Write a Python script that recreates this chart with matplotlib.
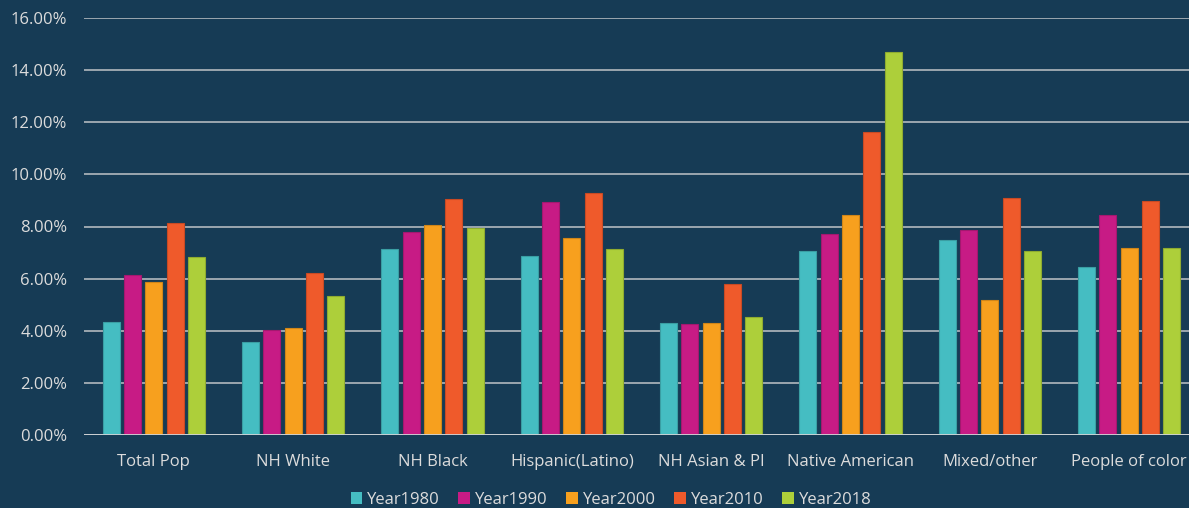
import matplotlib
matplotlib.use("Agg")
import matplotlib.pyplot as plt
import numpy as np
from matplotlib.patches import Patch

categories = ["Total Pop", "NH White", "NH Black", "Hispanic(Latino)", "NH Asian & PI",
              "Native American", "Mixed/other", "People of color"]
series_names = ["Year1980", "Year1990", "Year2000", "Year2010", "Year2018"]
year1980 = [4.35, 3.58, 7.13, 6.87, 4.29, 7.06, 7.48, 6.46]
year1990 = [6.14, 4.04, 7.80, 8.94, 4.25, 7.71, 7.87, 8.45]
year2000 = [5.87, 4.09, 8.06, 7.57, 4.29, 8.45, 5.19, 7.19]
year2010 = [8.12, 6.23, 9.07, 9.27, 5.79, 11.62, 9.08, 8.98]
year2018 = [6.82, 5.35, 7.93, 7.14, 4.52, 14.71, 7.07, 7.16]
yticks = [0, 2, 4, 6, 8, 10, 12, 14, 16]

colors = ["#45BDC2", "#C71B85", "#F7A01E", "#EF5A2B", "#ADCF3A"]
edges = ["#3A9EA3", "#A3186F", "#D08518", "#C84A24", "#8FAB30"]
bg = "#163B55"
txt = "#DCDCDC"

plt.rcParams['font.family'] = ['Open Sans', 'DejaVu Sans']

W, H = 1189, 508
fig = plt.figure(figsize=(W / 100, H / 100), dpi=100, facecolor=bg)
ax = fig.add_axes([84 / W, 73 / H, 1115 / W, 417 / H])
ax.set_facecolor(bg)

data = [year1980, year1990, year2000, year2010, year2018]
x = np.arange(len(categories))
step = 0.153
bw = 0.122
for i, (vals, c, e) in enumerate(zip(data, colors, edges)):
    ax.bar(x + (i - 2) * step, vals, width=bw, color=c, edgecolor=e, linewidth=0.8, zorder=3)

ax.set_xlim(-0.5, len(categories) - 0.5)
ax.set_ylim(0, 16)
ax.set_yticks(yticks)
ax.set_yticklabels([f"{v:.2f}%" for v in yticks])
ax.set_xticks(x)
ax.set_xticklabels(categories)
ax.tick_params(axis='both', length=0, colors=txt, labelsize=12)
ax.tick_params(axis='y', pad=12)
ax.tick_params(axis='x', pad=14)
ax.grid(axis='y', color="#BFC3C7", linewidth=1.1, zorder=0)
for s in ax.spines.values():
    s.set_visible(False)
ax.axhline(0, color="#D0D3D6", linewidth=1.3, zorder=4)

handles = [Patch(facecolor=c, edgecolor='none') for c in colors]
fig.legend(handles, series_names, loc='center', bbox_to_anchor=(611 / W, 8 / H),
           ncol=5, frameon=False, fontsize=12, labelcolor=txt,
           handlelength=0.7, handleheight=0.7, handletextpad=0.3, columnspacing=1.1)

fig.savefig("out.png", dpi=100, facecolor=bg)
